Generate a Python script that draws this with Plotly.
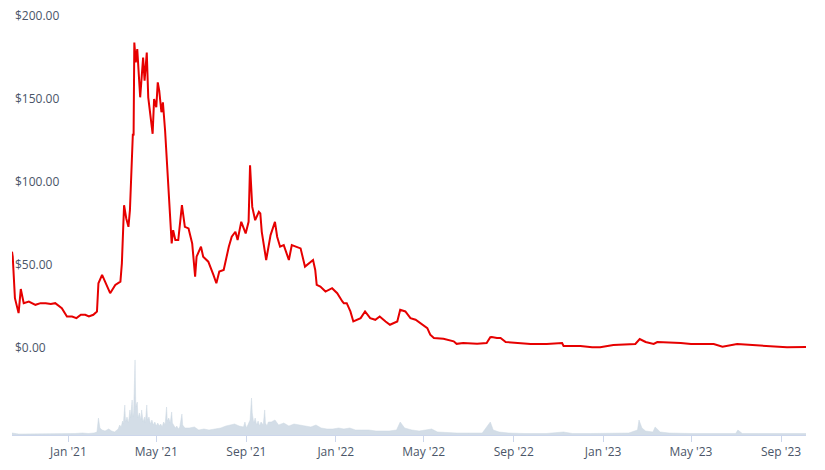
import plotly.graph_objects as go

price_dates = [
    "2020-10-16", "2020-10-17", "2020-10-20", "2020-10-25", "2020-10-28", "2020-11-01", "2020-11-08",
    "2020-11-17", "2020-11-24", "2020-12-01", "2020-12-08", "2020-12-14", "2020-12-23", "2020-12-30",
    "2021-01-06", "2021-01-12", "2021-01-18", "2021-01-24", "2021-01-29", "2021-02-04", "2021-02-09",
    "2021-02-11", "2021-02-16", "2021-02-20", "2021-02-27", "2021-03-06", "2021-03-13", "2021-03-15",
    "2021-03-18", "2021-03-21", "2021-03-24", "2021-03-26", "2021-03-29", "2021-03-30", "2021-03-31",
    "2021-04-01", "2021-04-03", "2021-04-05", "2021-04-09", "2021-04-13", "2021-04-15", "2021-04-18",
    "2021-04-20", "2021-04-23", "2021-04-26", "2021-04-28", "2021-05-01", "2021-05-03", "2021-05-05",
    "2021-05-08", "2021-05-10", "2021-05-13", "2021-05-15", "2021-05-18", "2021-05-20", "2021-05-22",
    "2021-05-24", "2021-05-27", "2021-05-31", "2021-06-05", "2021-06-09", "2021-06-14", "2021-06-19",
    "2021-06-23", "2021-06-25", "2021-07-01", "2021-07-04", "2021-07-11", "2021-07-18", "2021-07-22",
    "2021-07-26", "2021-08-01", "2021-08-08", "2021-08-12", "2021-08-17", "2021-08-20", "2021-08-25",
    "2021-08-31", "2021-09-04", "2021-09-06", "2021-09-09", "2021-09-13", "2021-09-18", "2021-09-20",
    "2021-09-22", "2021-09-24", "2021-09-28", "2021-10-04", "2021-10-07", "2021-10-10", "2021-10-13",
    "2021-10-17", "2021-10-22", "2021-10-29", "2021-11-02", "2021-11-09", "2021-11-14", "2021-11-20",
    "2021-11-25", "2021-12-01", "2021-12-04", "2021-12-06", "2021-12-11", "2021-12-18", "2021-12-27",
    "2022-01-03", "2022-01-10", "2022-01-12", "2022-01-16", "2022-01-21", "2022-01-25", "2022-02-04",
    "2022-02-10", "2022-02-17", "2022-02-24", "2022-03-02", "2022-03-10", "2022-03-16", "2022-03-26",
    "2022-03-30", "2022-04-06", "2022-04-13", "2022-04-20", "2022-04-27", "2022-05-06", "2022-05-10",
    "2022-05-15", "2022-05-28", "2022-06-11", "2022-06-15", "2022-06-24", "2022-07-13", "2022-07-26",
    "2022-07-31", "2022-08-02", "2022-08-09", "2022-08-14", "2022-08-21", "2022-09-10", "2022-09-24",
    "2022-10-16", "2022-11-06", "2022-11-08", "2022-12-01", "2022-12-17", "2022-12-28", "2023-01-15",
    "2023-02-03", "2023-02-14", "2023-02-20", "2023-02-28", "2023-03-11", "2023-03-16", "2023-04-17",
    "2023-05-01", "2023-06-01", "2023-06-13", "2023-07-03", "2023-07-25", "2023-08-21", "2023-09-09",
    "2023-10-05",
]
price_values = [
    58, 55, 30, 21, 35.5, 27, 28,
    26, 27, 27, 26.5, 27, 24, 19,
    19, 18, 20, 20, 19, 20, 22,
    39, 44, 40, 33, 38, 40, 51,
    86, 78, 73, 83, 123, 129, 128,
    184, 172, 180, 151, 175, 161, 178,
    151, 140, 129, 150, 145, 160, 155,
    142, 148, 131, 115, 99, 80, 63,
    71, 65, 65, 86, 73, 72, 63,
    43, 55, 61, 55, 52, 44, 39,
    46, 47, 61, 67, 70, 65, 76,
    69, 76, 110, 85, 77, 82, 81,
    70, 65, 53, 68, 72, 76, 67,
    61, 62, 53, 62, 61, 60, 49,
    51, 53, 47, 38, 37, 34, 36,
    33, 28, 27, 27, 22, 16, 18,
    22, 18, 17, 19, 16, 14, 16,
    23, 22, 18, 17, 15, 12, 8,
    6, 5.5, 4, 2.5, 3, 2.5, 3,
    6.5, 6.6, 6, 6, 3.6, 3, 2.4,
    2.4, 3, 1.2, 1.2, 0.4, 0.4, 1.8,
    2.4, 2.4, 5.4, 3.6, 2.4, 3.6, 3,
    2.4, 2.4, 0.8, 2.4, 1.8, 0.8, 0.4,
    0.6,
]

volume_dates = [
    "2020-10-16", "2020-10-20", "2020-10-25", "2020-11-01", "2020-11-10", "2020-11-20", "2020-12-01",
    "2020-12-10", "2020-12-20", "2021-01-01", "2021-01-10", "2021-01-20", "2021-01-28", "2021-02-05",
    "2021-02-09", "2021-02-11", "2021-02-13", "2021-02-16", "2021-02-20", "2021-02-25", "2021-03-01",
    "2021-03-05", "2021-03-10", "2021-03-12", "2021-03-14", "2021-03-16", "2021-03-17", "2021-03-19",
    "2021-03-20", "2021-03-22", "2021-03-24", "2021-03-26", "2021-03-27", "2021-03-29", "2021-03-30",
    "2021-03-31", "2021-04-01", "2021-04-02", "2021-04-03", "2021-04-05", "2021-04-06", "2021-04-08",
    "2021-04-10", "2021-04-11", "2021-04-13", "2021-04-15", "2021-04-16", "2021-04-18", "2021-04-19",
    "2021-04-21", "2021-04-23", "2021-04-25", "2021-04-27", "2021-04-29", "2021-05-01", "2021-05-03",
    "2021-05-05", "2021-05-07", "2021-05-09", "2021-05-11", "2021-05-13", "2021-05-15", "2021-05-16",
    "2021-05-18", "2021-05-20", "2021-05-22", "2021-05-23", "2021-05-25", "2021-05-27", "2021-05-29",
    "2021-05-31", "2021-06-02", "2021-06-05", "2021-06-06", "2021-06-09", "2021-06-15", "2021-06-22",
    "2021-06-28", "2021-07-05", "2021-07-12", "2021-07-20", "2021-07-28", "2021-08-04", "2021-08-10",
    "2021-08-16", "2021-08-22", "2021-08-28", "2021-08-30", "2021-09-01", "2021-09-03", "2021-09-06",
    "2021-09-08", "2021-09-09", "2021-09-11", "2021-09-13", "2021-09-15", "2021-09-17", "2021-09-19",
    "2021-09-21", "2021-09-24", "2021-09-26", "2021-09-27", "2021-09-29", "2021-10-01", "2021-10-05",
    "2021-10-10", "2021-10-15", "2021-10-22", "2021-10-29", "2021-11-05", "2021-11-12", "2021-11-20",
    "2021-11-28", "2021-12-05", "2021-12-12", "2021-12-20", "2021-12-28", "2022-01-05", "2022-01-12",
    "2022-01-20", "2022-01-28", "2022-02-05", "2022-02-15", "2022-02-25", "2022-03-05", "2022-03-15",
    "2022-03-25", "2022-03-30", "2022-04-05", "2022-04-15", "2022-04-25", "2022-05-05", "2022-05-12",
    "2022-05-20", "2022-06-01", "2022-06-15", "2022-07-01", "2022-07-20", "2022-07-31", "2022-08-04",
    "2022-08-12", "2022-08-25", "2022-09-15", "2022-10-15", "2022-11-08", "2022-11-20", "2022-12-15",
    "2023-01-15", "2023-02-05", "2023-02-17", "2023-02-19", "2023-02-23", "2023-02-28", "2023-03-10",
    "2023-03-13", "2023-03-20", "2023-04-01", "2023-05-01", "2023-06-01", "2023-06-13", "2023-07-01",
    "2023-07-04", "2023-07-10", "2023-08-01", "2023-09-01", "2023-10-05",
]
volume_values = [
    4, 3, 2, 2, 2, 2, 2,
    2, 2, 2, 3, 4, 3, 4,
    6, 34, 14, 10, 8, 12, 8,
    6, 12, 20, 16, 28, 22, 60,
    26, 36, 24, 50, 34, 70, 36,
    44, 90, 150, 56, 66, 34, 44,
    30, 50, 26, 36, 24, 60, 30,
    36, 22, 30, 20, 26, 18, 24,
    18, 22, 16, 26, 20, 56, 28,
    34, 24, 46, 24, 20, 14, 18,
    12, 16, 42, 20, 14, 14, 16,
    10, 12, 10, 12, 14, 18, 20,
    22, 18, 16, 26, 14, 20, 30,
    74, 44, 24, 34, 20, 28, 18,
    26, 20, 50, 24, 18, 26, 26,
    30, 20, 24, 18, 22, 20, 18,
    16, 20, 14, 12, 12, 14, 12,
    14, 10, 10, 10, 8, 8, 8,
    10, 26, 14, 10, 8, 10, 12,
    6, 5, 4, 4, 4, 26, 10,
    6, 4, 3, 3, 6, 3, 3,
    3, 4, 10, 30, 14, 8, 6,
    16, 6, 4, 3, 3, 4, 3,
    10, 3, 3, 3, 3,
]

tick_vals = ["2021-01-01", "2021-05-01", "2021-09-01", "2022-01-01", "2022-05-01",
             "2022-09-01", "2023-01-01", "2023-05-01", "2023-09-01"]
tick_text = ["Jan '21", "May '21", "Sep '21", "Jan '22", "May '22",
             "Sep '22", "Jan '23", "May '23", "Sep '23"]

fig = go.Figure()
fig.add_trace(go.Scatter(
    x=volume_dates, y=volume_values, mode="lines", fill="tozeroy",
    line=dict(color="#cdd8e3", width=0.5), fillcolor="#d3dde7",
    yaxis="y2", hoverinfo="skip", showlegend=False,
))
fig.add_trace(go.Scatter(
    x=price_dates, y=price_values, mode="lines",
    line=dict(color="#e60000", width=2), yaxis="y", showlegend=False,
))

fig.update_layout(
    width=825, height=470,
    margin=dict(l=4, r=27, t=0, b=43),
    paper_bgcolor="white", plot_bgcolor="white",
    font=dict(family="Open Sans, sans-serif", size=12, color="#4a5568"),
    xaxis=dict(
        range=["2020-10-16", "2023-10-05"], anchor="y2",
        tickvals=tick_vals, ticktext=tick_text,
        showgrid=False, zeroline=False,
        showline=True, linecolor="#ccd6eb", linewidth=1,
        ticks="outside", ticklen=6, tickcolor="#ccd6eb",
        tickfont=dict(size=12, color="#4a5568"),
    ),
    yaxis=dict(
        domain=[0.1649, 1.0], range=[-10, 204.8],
        tickvals=[0, 50, 100, 150, 200], tickformat="$.2f",
        ticklabelposition="inside", ticklabeloverflow="allow",
        showgrid=False, zeroline=False,
        showline=False, tickfont=dict(size=12, color="#4a5568"),
    ),
    yaxis2=dict(
        domain=[0, 0.191], range=[0, 163], visible=False,
    ),
)

fig.write_html("out.html")
